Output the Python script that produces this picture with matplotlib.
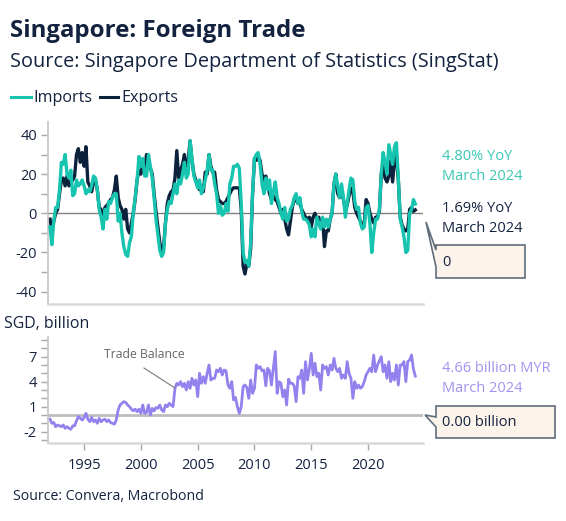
import matplotlib
matplotlib.use("Agg")
import matplotlib.pyplot as plt
import matplotlib.dates as mdates
from matplotlib.patches import Polygon
from matplotlib.ticker import MultipleLocator
import pandas as pd
import numpy as np

# ---------------- data (bi-monthly, Jan 1992 .. Mar 2024) ----------------
start_date = "1992-01-01"

imports_yoy = [
    -7, -16, -4, 3, 3, 12, 26, 25, 30, 20,
    18, 22, 9, 10, 17, 14, 15, 17, 14, 10,
    12, 11, 14, 19, 18, 12, 2, -2, -8, 2,
    -3, 6, 5, 8, 10, 10, -4, 0, -10, -17,
    -21, -22, -15, -12, 0, 8, 17, 29,
    24, 28, 19, 19, 30, 24, 18, 8, -3, -11,
    -19, -22, -20, -5, 2, 6, 5, 10, 15, 10,
    17, 15, 20, 26, 18, 20, 37, 28, 19, 16,
    13, 17, 10, 13, 17, 22, 30, 22, 22, 15,
    10, 0, 4, -1, 0, 5, 1, 15, 18, 24,
    24, 25,
    23, 5, -20, -25, -24, -27, -15, 10, 28, 30,
    31, 25, 15, 10, 18, 12, 17, 5, 11, 16,
    8, 5, 0, -3, 3, -4, -3, 2, 4, 8,
    10, 5, 8, 1, -3, -3, -4, -6, -12, -8,
    -12, -2, -5, -8, -2, -7, -3,
    -7, -3, 0, 15, 20, 14, 8, 15, 8, -2,
    5, 12, 18, 17, 6, 2, 3, -5, -8, -7,
    3, 4, -5, -20, -10, -3, -3, 2, 20, 31,
    26, 20, 35, 30, 25, 34, 36, 18, -3, -7,
    -12, -20, -19, 0, 2, 7, 4.80,
]

exports_yoy = [
    -3, -9, -4, 0, 2, 10, 17, 18, 14, 19,
    14, 16, 17, 19, 30, 33, 26, 31, 24, 34,
    16, 14, 11, 16, 17, 12, 3, 2, -2, 3,
    4, 5, 7, 8, 12, 19, 8, 4, 2, -3,
    2, -8, -10, -5, 0, 7, 17, 22,
    20, 25, 22, 30, 26, 23, 20, 10, 1, -7,
    -15, -20, -17, -5, 5, 9, 11, 12, 18, 32,
    18, 22, 25, 30, 22, 27, 37, 27, 20, 17,
    14, 12, 14, 11, 21, 20, 30, 24, 21, 21,
    12, 7, 6, 5, 5, 6, 8, 10, 12, 13,
    13, 13,
    13, 2, -27, -31, -26, -27, -18, 10, 28, 27,
    29, 27, 20, 17, 19, 14, 10, 7, 9, 7,
    6, 3, 0, 2, -3, -8, -11, -4, 3, 7,
    7, 5, 5, 2, 0, -2, -3, -2, -7, -2,
    0, -3, -2, -7, -3, -17, -9,
    -9, -3, 0, 15, 20, 10, 8, 12, 7, 2,
    4, 9, 13, 11, 3, 0, -2, -4, -6, -5,
    7, 5, 0, -3, -5, -2, -2, 1, 20, 24,
    18, 16, 19, 27, 16, 27, 29, 17, -2, -6,
    -8, -9, -8, 2, 3, 1, 1.69,
]

trade_balance = [
    -0.5, -1.0, -0.9, -1.4, -1.2, -1.3, -1.4, -1.2, -1.6, -1.4,
    -1.6, -1.7, -1.3, -1.3, -0.7, -0.2, -0.4, -0.6, -0.3, 0.2,
    -0.5, -0.8, -0.3, -0.8, -0.6, -1.0, -0.4, -0.8, -0.6, -0.5,
    -0.8, -0.6, -0.9, -1.0, -1.1, -0.6, 0.6, 1.2, 1.4, 1.6,
    1.5, 1.2, 1.0, 0.7, 0.5, 0.7, 0.4, 0.7, 0.2, 1.2,
    0.2, 0.3, 1.2, 0.0, 0.8, 0.5, 0.9, 0.8, 1.2, 0.6,
    0.4, 1.2, 1.0, 1.4, 1.2, 1.0, 3.2, 3.8, 3.6, 4.0,
    3.4, 3.8, 3.0, 4.0, 3.2, 4.4, 3.6, 4.2, 2.2, 5.0,
    3.8, 4.6, 3.8, 5.0, 6.0, 4.2, 4.4, 4.4, 5.4, 5.2,
    5.6, 4.8, 5.4, 5.3, 3.6, 3.2, 4.0, 1.8,
    2.1, 1.0,
    0.2, 1.0, 3.4, 3.6, 3.3, 2.0, 4.2, 2.6, 3.2, 6.0,
    5.6, 5.8, 5.3, 5.4, 3.5, 5.6, 5.3, 3.6, 5.6, 7.6,
    2.6, 4.0, 3.8, 2.2, 3.0, 1.2, 4.3, 3.8, 3.8, 3.5,
    1.6, 4.6, 4.4, 5.4, 2.6, 6.4, 4.2, 5.5, 7.4, 4.8,
    6.2, 4.6, 5.0, 3.0, 6.0, 5.6, 5.8, 4.8, 6.0, 5.4,
    6.8, 5.6, 5.2, 5.6, 4.4, 4.8, 4.4, 6.4, 5.0, 4.4,
    2.0, 4.0, 3.2, 3.6, 3.2, 3.4, 4.0, 4.8, 5.2, 5.6,
    5.2, 7.2, 5.2, 6.0, 6.5, 7.0, 5.2, 6.0, 4.4, 6.4,
    4.0, 5.0, 4.2, 6.0, 3.6, 6.0, 6.0, 6.4, 4.0, 6.4,
    6.6, 7.2, 5.5, 4.66,
]

top_ticks = [-40, -20, 0, 20, 40]
bottom_ticks = [-2, 1, 4, 7]
year_ticks = [1995, 2000, 2005, 2010, 2015, 2020]

dates = pd.date_range(start_date, periods=len(imports_yoy), freq="2MS")

# ---------------- style ----------------
plt.rcParams["font.family"] = ["Open Sans", "DejaVu Sans"]
W, H = 566, 521
C_IMP = "#17c4b0"
C_EXP = "#0c213b"
C_TB = "#9382ee"
C_TXT = "#13223f"


def F(x, y):
    return (x / W, 1 - y / H)


fig = plt.figure(figsize=(W / 100, H / 100), dpi=100)
fig.patch.set_facecolor("white")

ax_l = 48
ax_r = 423
ax1 = fig.add_axes([ax_l / W, 1 - 304 / H, (ax_r - ax_l) / W, (304 - 122) / H])
ax2 = fig.add_axes([ax_l / W, 1 - 443 / H, (ax_r - ax_l) / W, (443 - 337) / H])

xmin = pd.Timestamp("1991-10-28")
xmax = pd.Timestamp("2024-11-03")

for ax in (ax1, ax2):
    ax.set_xlim(xmin, xmax)
    for s in ("top", "right"):
        ax.spines[s].set_visible(False)
    ax.spines["left"].set_color("#c4c4c4")
    ax.spines["left"].set_linewidth(1.2)
    ax.spines["bottom"].set_color("#d9d9d9")
    ax.spines["bottom"].set_linewidth(1.8)
    ax.tick_params(axis="y", which="both", length=5, width=1, color="#a8a8a8",
                   labelsize=10.5, labelcolor=C_TXT, pad=3)
    ax.set_facecolor("none")

# top panel
ax1.axhline(0, color="#808080", lw=1, zorder=1)
ax1.plot(dates, exports_yoy, color=C_EXP, lw=2.4, zorder=2)
ax1.plot(dates, imports_yoy, color=C_IMP, lw=2.4, zorder=3)
ax1.set_ylim(-46.3, 46.6)
ax1.set_yticks(top_ticks)
ax1.set_yticklabels([str(t) for t in top_ticks])
ax1.yaxis.set_minor_locator(MultipleLocator(10))
ax1.tick_params(axis="x", which="both", bottom=False, labelbottom=False)

# bottom panel
ax2.axhline(0, color="#bdbdbd", lw=2, zorder=1)
ax2.plot(dates, trade_balance, color=C_TB, lw=2.0, zorder=2)
ax2.set_ylim(-3.36, 9.36)
ax2.set_yticks(bottom_ticks)
ax2.set_yticklabels([str(t) for t in bottom_ticks])
ax2.yaxis.set_minor_locator(MultipleLocator(1))
ax2.set_xticks([pd.Timestamp(f"{y}-01-01") for y in year_ticks])
ax2.xaxis.set_major_formatter(mdates.DateFormatter("%Y"))
ax2.tick_params(axis="x", which="major", length=5, width=1, color="#a8a8a8",
                labelsize=10.5, labelcolor=C_TXT, pad=6)
ax2.tick_params(axis="x", which="minor", bottom=False)

# trade balance label
fig.text(*F(144, 355), "Trade Balance", fontsize=8.8, color="#666666",
         ha="center", va="center")
fig.add_artist(plt.Line2D([144 / W, 175 / W], [1 - 368 / H, 1 - 388 / H],
                          transform=fig.transFigure, color="#7a7a7a", lw=0.8))

# ---------------- titles / legend ----------------
fig.text(*F(10, 36.5), "Singapore: Foreign Trade", fontsize=17.3, fontweight="bold",
         color=C_TXT, ha="left", va="baseline")
fig.text(*F(10, 66.5), "Source: Singapore Department of Statistics (SingStat)",
         fontsize=14.3, color=C_TXT, ha="left", va="baseline")

fig.add_artist(plt.Line2D([11 / W, 31 / W], [1 - 97 / H] * 2, transform=fig.transFigure,
                          color=C_IMP, lw=2.2))
fig.text(*F(33, 98), "Imports", fontsize=11.6, color=C_TXT, ha="left", va="center")
fig.add_artist(plt.Line2D([100 / W, 118 / W], [1 - 97 / H] * 2, transform=fig.transFigure,
                          color=C_EXP, lw=2.2))
fig.text(*F(121, 98), "Exports", fontsize=11.6, color=C_TXT, ha="left", va="center")

fig.text(*F(4, 324), "SGD, billion", fontsize=11.4, color=C_TXT, ha="left", va="center")
fig.text(*F(13, 497), "Source: Convera, Macrobond", fontsize=10.2, color=C_TXT,
         ha="left", va="center")

# ---------------- right annotations ----------------
fig.text(*F(442, 156), "4.80% YoY", fontsize=10.5, color="#3ac7b3", ha="left", va="center")
fig.text(*F(442, 176), "March 2024", fontsize=10.5, color="#3ac7b3", ha="left", va="center")
fig.text(*F(442, 209), "1.69% YoY", fontsize=10.5, color=C_TXT, ha="left", va="center")
fig.text(*F(442, 228.5), "March 2024", fontsize=10.5, color=C_TXT, ha="left", va="center")

fig.text(*F(442, 369), "4.66 billion MYR", fontsize=10.5, color="#a293f0", ha="left", va="center")
fig.text(*F(442, 389), "March 2024", fontsize=10.5, color="#a293f0", ha="left", va="center")

box1 = [(436, 245), (525, 245), (525, 278), (436, 278), (436, 267), (426, 222), (436, 250)]
box2 = [(436, 406), (555, 406), (555, 438), (436, 438), (436, 427), (425, 415), (436, 417)]
for pts in (box1, box2):
    poly = Polygon([F(x, y) for x, y in pts], closed=True, transform=fig.transFigure,
                   facecolor="#fcf3ea", edgecolor="#5f6e7d", lw=1.2)
    fig.add_artist(poly)

fig.text(*F(442, 262), "0", fontsize=10.5, color=C_TXT, ha="left", va="center")
fig.text(*F(442, 422), "0.00 billion", fontsize=10.5, color=C_TXT, ha="left", va="center")

fig.savefig("out.png", dpi=100, facecolor="white")
